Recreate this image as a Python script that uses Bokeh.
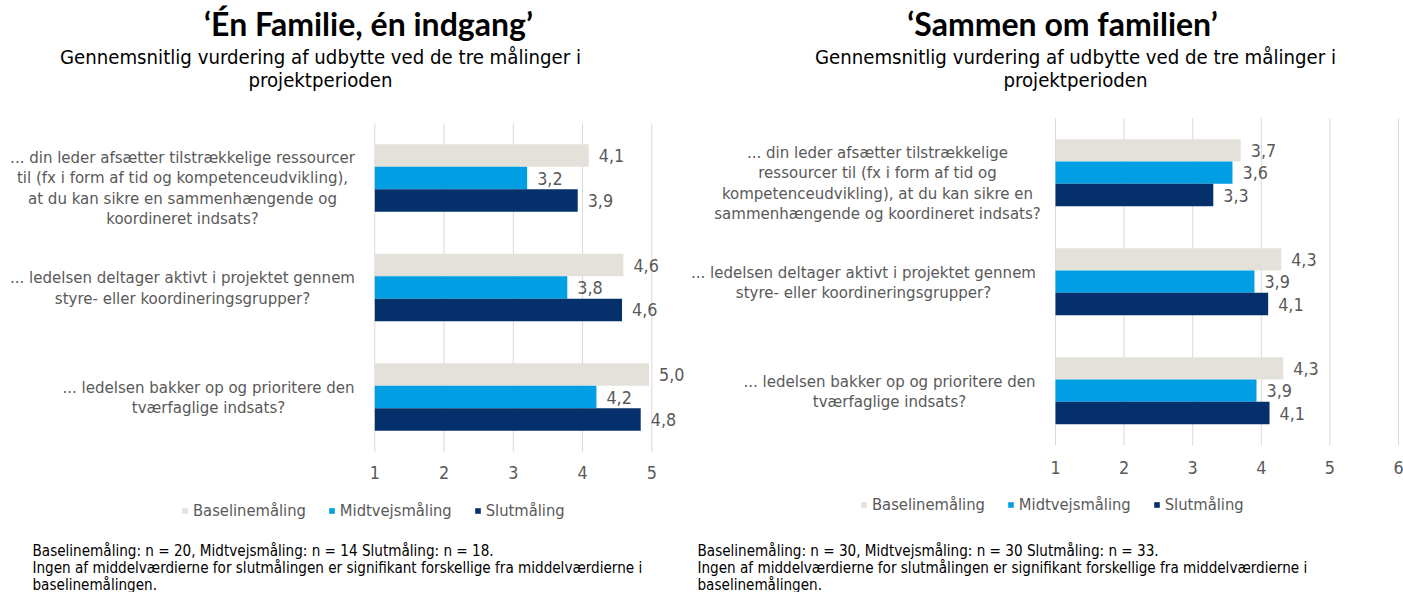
import glob
import subprocess
from bokeh.plotting import figure
from bokeh.models import Range1d, Label, LabelSet, ColumnDataSource, Legend, LegendItem
from bokeh.layouts import row
from bokeh.core.properties import value
from bokeh.embed import file_html
from bokeh.resources import INLINE

# ---------------- data ----------------
series = ["Baselinemåling", "Midtvejsmåling", "Slutmåling"]
series_colors = ["#E3E1DA", "#009FE3", "#05306B"]

left_title = "‘Én Familie, én indgang’"
right_title = "‘Sammen om familien’"
subtitle = "Gennemsnitlig vurdering af udbytte ved de tre målinger i\nprojektperioden"

left_categories = [
    "... din leder afsætter tilstrækkelige ressourcer\ntil (fx i form af tid og kompetenceudvikling),\nat du kan sikre en sammenhængende og\nkoordineret indsats?",
    "... ledelsen deltager aktivt i projektet gennem\nstyre- eller koordineringsgrupper?",
    "... ledelsen bakker op og prioritere den\ntværfaglige indsats?",
]
right_categories = [
    "... din leder afsætter tilstrækkelige\nressourcer til (fx i form af tid og\nkompetenceudvikling), at du kan sikre en\nsammenhængende og koordineret indsats?",
    "... ledelsen deltager aktivt i projektet gennem\nstyre- eller koordineringsgrupper?",
    "... ledelsen bakker op og prioritere den\ntværfaglige indsats?",
]

left_baseline = [4.09, 4.59, 4.96]
left_midtvejs = [3.20, 3.78, 4.20]
left_slut = [3.93, 4.57, 4.84]

right_baseline = [3.70, 4.29, 4.32]
right_midtvejs = [3.58, 3.90, 3.93]
right_slut = [3.30, 4.10, 4.12]

left_ticks = [1, 2, 3, 4, 5]
right_ticks = [1, 2, 3, 4, 5, 6]

left_notes = [
    "Baselinemåling: n = 20, Midtvejsmåling: n = 14 Slutmåling: n = 18.",
    "Ingen af middelværdierne for slutmålingen er signifikant forskellige fra middelværdierne i",
    "baselinemålingen.",
]
right_notes = [
    "Baselinemåling: n = 30, Midtvejsmåling: n = 30 Slutmåling: n = 33.",
    "Ingen af middelværdierne for slutmålingen er signifikant forskellige fra middelværdierne i",
    "baselinemålingen.",
]

# ---------------- styling ----------------
def _has_font(fam):
    try:
        out = subprocess.run(["fc-list", ":", "family"], capture_output=True, text=True).stdout
        return any(fam in line for line in out.splitlines())
    except Exception:
        return bool(glob.glob("/usr/share/fonts/**/" + fam.replace(" ", "") + "*", recursive=True))


if _has_font("DejaVu Sans Condensed"):
    FONT, K = "DejaVu Sans Condensed", 1 / 0.9
else:
    FONT, K = "DejaVu Sans", 1.0


def fs(px):
    return f"{px * K:.1f}px"


def fmt(v):
    return f"{v:.1f}".replace(".", ",")


H = 592
BAR_H = 0.205
GRID = "#D9D9D9"
GREY = "#595959"


def make_chart(cats, vals, ticks, title, notes, geo):
    ox, W = geo["ox"], geo["width"]
    x1, ppx = geo["x1"], geo["ppx"]
    c0, ppy = geo["c0"], geo["ppy"]
    n = len(cats)
    x_start = ticks[0] - (x1 - ox) / ppx
    x_end = ticks[0] + (ox + W - x1) / ppx
    y_top = (0 - c0) / ppy
    y_bot = (H - c0) / ppy

    p = figure(width=W, height=H,
               x_range=Range1d(x_start, x_end), y_range=Range1d(y_bot, y_top),
               output_backend="svg", toolbar_location=None,
               x_axis_location=None, y_axis_location=None,
               min_border_left=0, min_border_right=0, min_border_top=0, min_border_bottom=0)
    p.outline_line_color = None
    p.background_fill_color = "white"
    p.border_fill_color = "white"
    p.xgrid.visible = False
    p.ygrid.visible = False

    # value-axis gridlines and tick labels (from the tick list, through the scales)
    p.segment(x0=ticks, x1=ticks, y0=[-0.5] * len(ticks), y1=[n - 0.5] * len(ticks),
              line_color=GRID, line_width=1)
    y_tick = n - 0.5 + geo["tick_gap"] / ppy
    p.text(x=ticks, y=[y_tick] * len(ticks), text=[str(t) for t in ticks],
           text_align="center", text_baseline="middle", text_font=value(FONT),
           text_font_size=fs(16), text_color=GREY)

    offsets = [-BAR_H, 0.0, BAR_H]
    items = []
    for name, color, v, off in zip(series, series_colors, vals, offsets):
        src = ColumnDataSource(dict(y=[i + off for i in range(n)], v=v,
                                    lbl=[fmt(x) for x in v]))
        r = p.hbar(y="y", left=ticks[0], right="v", height=BAR_H, source=src,
                   fill_color=color, line_color=None)
        items.append(LegendItem(label=name, renderers=[r]))
        p.add_layout(LabelSet(x="v", y="y", text="lbl", source=src, x_offset=10,
                              text_baseline="middle", text_align="left",
                              text_font=value(FONT), text_font_size=fs(16),
                              text_color=GREY))

    # category labels
    for i, (c, cx, dy) in enumerate(zip(cats, geo["cat_cx"], geo["cat_dy"])):
        p.add_layout(Label(x=cx - ox, x_units="screen", y=i + dy, y_units="data", text=c,
                           text_align="center", text_baseline="middle", text_font=FONT,
                           text_font_size=fs(15), text_color=GREY, text_line_height=1.02))

    # title + subtitle
    tx, ty = geo["title"]
    p.add_layout(Label(x=tx - ox, y=H - ty, x_units="screen", y_units="screen", text=title,
                       text_align="center", text_baseline="middle", text_font="Lato",
                       text_font_style="bold", text_font_size="32px", text_color="black"))
    sx, sy = geo["sub"]
    p.add_layout(Label(x=sx - ox, y=H - sy, x_units="screen", y_units="screen", text=subtitle,
                       text_align="center", text_baseline="middle", text_font=FONT,
                       text_font_size=fs(18.2), text_color="black", text_line_height=0.94))

    # footnotes
    for t, ny in zip(notes, geo["note_y"]):
        p.add_layout(Label(x=geo["note_x"] - ox, y=H - ny, x_units="screen", y_units="screen",
                           text=t, text_align="left", text_baseline="middle", text_font=FONT,
                           text_font_size=fs(13.6), text_color="black"))

    lx, lb = geo["legend"]
    legend = Legend(items=items, orientation="horizontal", location=(lx - ox, H - lb),
                    glyph_width=7, glyph_height=7, label_standoff=5, spacing=22,
                    padding=0, margin=0, label_height=20,
                    border_line_color=None, background_fill_alpha=0,
                    label_text_font=FONT, label_text_font_size=fs(14.8),
                    label_text_color=GREY)
    p.add_layout(legend)
    return p


SPLIT = 686
left_geo = dict(ox=0, width=SPLIT, x1=374.3, ppx=69.25, c0=177.5, ppy=109.5, tick_gap=21,
                cat_cx=[182, 182, 208], cat_dy=[0.087, 0.0, 0.0],
                title=(368, 23), sub=(320, 68), note_x=32, note_y=[550, 567, 584],
                legend=(181, 520))
right_geo = dict(ox=SPLIT, width=1403 - SPLIT, x1=1055, ppx=68.6, c0=172.2, ppy=109.0,
                 tick_gap=22, cat_cx=[877, 863, 889], cat_dy=[0.09, 0.0, 0.0],
                 title=(1062, 23), sub=(1075, 68), note_x=697, note_y=[550, 567, 584],
                 legend=(860, 514))

p1 = make_chart(left_categories, [left_baseline, left_midtvejs, left_slut], left_ticks,
                left_title, left_notes, left_geo)
p2 = make_chart(right_categories, [right_baseline, right_midtvejs, right_slut], right_ticks,
                right_title, right_notes, right_geo)

layout = row(p1, p2, spacing=0)
open("out.html", "w").write(file_html(layout, INLINE))
